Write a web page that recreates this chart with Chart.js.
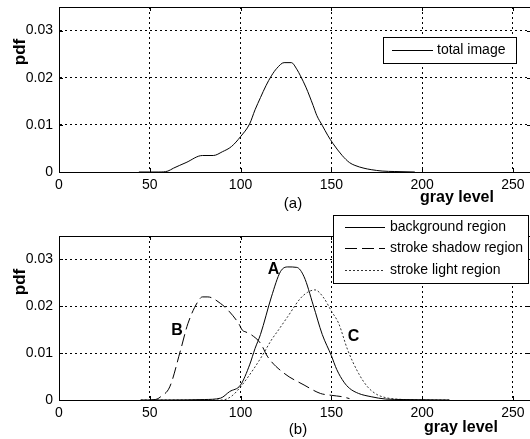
<!DOCTYPE html>
<html>
<head>
<meta charset="utf-8">
<script src="https://cdn.jsdelivr.net/npm/chart.js@4/dist/chart.umd.min.js"></script>
<style>
html,body{margin:0;padding:0;background:#fff;overflow:hidden;width:530px;height:439px;}
.box{position:absolute;left:0;width:531px;}
</style>
</head>
<body>
<div class="box" style="top:0;height:212px;"><canvas id="c1" width="531" height="212"></canvas></div>
<div class="box" style="top:212px;height:227px;"><canvas id="c2" width="531" height="227"></canvas></div>
<script>
// ---- data ----
const xTicks = [0, 50, 100, 150, 200, 250];
const yTicks = [0, 0.01, 0.02, 0.03];

const totalX = [44, 50, 55, 60, 63, 70, 79, 85, 90, 95, 100, 105, 108, 111, 114, 117, 120, 124, 128, 131, 133, 136, 140, 142, 145, 148, 151, 156, 160, 163, 168, 172, 178, 185, 196];
const totalY = [0, 0, 0, 0.0002, 0.0008, 0.002, 0.0035, 0.0035, 0.0043, 0.0054, 0.0075, 0.0102, 0.0132, 0.0158, 0.0183, 0.0204, 0.022, 0.0232, 0.0232, 0.0218, 0.0204, 0.018, 0.0141, 0.012, 0.0099, 0.0078, 0.006, 0.0035, 0.002, 0.0014, 0.0008, 0.0005, 0.0002, 0.0001, 0];

const bgX = [45, 60, 80, 89, 94, 100, 105, 108, 111, 117, 122, 126, 131, 135, 140, 145, 150, 153, 157, 160, 165, 172, 180, 190, 215];
const bgY = [0, 0, 0.0001, 0.0004, 0.0018, 0.0032, 0.0075, 0.011, 0.014, 0.022, 0.0274, 0.0284, 0.0283, 0.0263, 0.0203, 0.014, 0.0095, 0.0065, 0.0038, 0.0025, 0.0014, 0.0007, 0.0002, 0.0001, 0];

const shadowX = [50, 54, 56, 61, 67, 71, 77, 79, 82, 89, 94, 99, 101, 103, 106, 111, 115, 124, 135, 144, 150, 156, 160];
const shadowY = [0, 0.0002, 0.0007, 0.0028, 0.0107, 0.0163, 0.0213, 0.022, 0.022, 0.0206, 0.0188, 0.0163, 0.0149, 0.0145, 0.0139, 0.0121, 0.0092, 0.0057, 0.0032, 0.0014, 0.001, 0.0007, 0.0003];

const lightX = [45, 90, 95, 100, 107, 112, 117, 121, 126, 133, 137, 141, 146, 150, 154, 159, 165, 170, 175, 180, 186, 200, 215];
const lightY = [0, 0, 0.0008, 0.0028, 0.0065, 0.0095, 0.0128, 0.015, 0.0178, 0.0217, 0.023, 0.0235, 0.0217, 0.019, 0.0164, 0.0107, 0.0057, 0.0028, 0.0012, 0.0005, 0.0002, 0, 0];

const annotText = ['A', 'B', 'C'];
const annotX = [118.2, 65, 162.3];
const annotY = [0.0279, 0.0149, 0.0135];

const xTitle = 'gray level';
const yTitle = 'pdf';

function pts(xs, ys){ return xs.map((x,i)=>({x:x, y:ys[i]})); }

const FONT = '"Liberation Sans", Arial, sans-serif';

const framePlugin = {
  id: 'frame',
  afterDatasetsDraw(chart, args, o){
    const {ctx, chartArea:a, scales} = chart;
    ctx.save();
    ctx.strokeStyle = '#000'; ctx.lineWidth = 1; ctx.setLineDash([]);
    ctx.beginPath();
    xTicks.forEach(v=>{
      const px = Math.round(scales.x.getPixelForValue(v))+0.5;
      ctx.moveTo(px, a.bottom); ctx.lineTo(px, a.bottom-4);
      ctx.moveTo(px, a.top); ctx.lineTo(px, a.top+4);
    });
    yTicks.forEach(v=>{
      const py = Math.round(scales.y.getPixelForValue(v))+0.5;
      ctx.moveTo(a.left, py); ctx.lineTo(a.left+4, py);
      ctx.moveTo(a.right, py); ctx.lineTo(a.right-4, py);
    });
    ctx.stroke();
    ctx.strokeRect(Math.round(a.left)+0.5, Math.round(a.top)+0.5, Math.round(a.right-a.left), Math.round(a.bottom-a.top));
    ctx.fillStyle = '#000';
    ctx.textAlign = 'center'; ctx.textBaseline = 'middle';
    ctx.font = 'bold 16px ' + FONT;
    ctx.fillText(xTitle, o.xTitle[0], o.xTitle[1]);
    ctx.save();
    ctx.translate(o.yTitle[0], o.yTitle[1]); ctx.rotate(-Math.PI/2);
    ctx.font = 'bold 17px ' + FONT;
    ctx.fillText(yTitle, 0, 0);
    ctx.restore();
    ctx.font = '15px ' + FONT;
    ctx.fillText(o.caption, o.capPos[0], o.capPos[1]);
    if (o.annot) {
      ctx.font = 'bold 16px ' + FONT;
      annotText.forEach((t,i)=>{
        ctx.fillText(t, scales.x.getPixelForValue(annotX[i]), scales.y.getPixelForValue(annotY[i]));
      });
    }
    const L = o.legend;
    ctx.fillStyle = '#fff';
    ctx.fillRect(L.x, L.y, L.w, L.h);
    ctx.strokeStyle = '#000';
    ctx.strokeRect(L.x+0.5, L.y+0.5, L.w, L.h);
    ctx.textAlign = 'left';
    ctx.font = '14px ' + FONT;
    chart.data.datasets.forEach((ds,i)=>{
      const y = Math.round(L.y + L.row0 + i*L.rowH)+0.5;
      ctx.strokeStyle = ds.borderColor; ctx.lineWidth = 1;
      ctx.setLineDash(ds.borderDash || []);
      ctx.beginPath(); ctx.moveTo(L.x+L.lx0, y); ctx.lineTo(L.x+L.lx1, y); ctx.stroke();
      ctx.setLineDash([]);
      ctx.fillStyle = '#000';
      ctx.fillText(ds.label, L.x+L.tx, y);
    });
    ctx.restore();
  }
};

function makeScales(xH){
  return {
    x: {
      type:'linear', min:0, max:260,
      afterBuildTicks: s => { s.ticks = xTicks.map(v=>({value:v})); },
      afterFit: s => { s.height = xH; s.paddingLeft = 0; s.paddingRight = 0; },
      grid:{ color:'#000', lineWidth:1, tickLength:0, drawTicks:false },
      border:{ display:true, color:'#000', dash:[2,3] },
      ticks:{ color:'#000', padding:5, maxRotation:0, font:{family:FONT, size:14}, callback:v=>String(v) }
    },
    y: {
      type:'linear', min:0, max:0.035,
      afterBuildTicks: s => { s.ticks = yTicks.map(v=>({value:v})); },
      afterFit: s => { s.width = 59; s.paddingTop = 0; s.paddingBottom = 0; },
      grid:{ color:'#000', lineWidth:1, tickLength:0, drawTicks:false },
      border:{ display:true, color:'#000', dash:[2,3] },
      ticks:{ color:'#000', padding:6, font:{family:FONT, size:14}, callback:v=> v===0 ? '0' : v.toFixed(2) }
    }
  };
}

const lineBase = { borderColor:'#000', borderWidth:1, pointRadius:0, fill:false, cubicInterpolationMode:'monotone' };

new Chart(document.getElementById('c1'), {
  type:'line',
  data:{ datasets:[
    Object.assign({ label:'total image', data:pts(totalX,totalY) }, lineBase)
  ]},
  options:{
    responsive:false, animation:false,
    layout:{ padding:{ left:0, right:0, top:7, bottom:0 } },
    scales: makeScales(40),
    plugins:{
      legend:{display:false}, tooltip:{enabled:false},
      frame:{ xTitle:[457,198], yTitle:[20,52], caption:'(a)', capPos:[293,204], annot:false,
        legend:{ x:383, y:37, w:133, h:26, row0:13, rowH:0, lx0:9, lx1:50, tx:54 } }
    }
  },
  plugins:[framePlugin]
});

new Chart(document.getElementById('c2'), {
  type:'line',
  data:{ datasets:[
    Object.assign({ label:'background region', data:pts(bgX,bgY) }, lineBase),
    Object.assign({ label:'stroke shadow region', data:pts(shadowX,shadowY), borderDash:[12,5] }, lineBase),
    Object.assign({ label:'stroke light region', data:pts(lightX,lightY) }, lineBase, { borderColor:'#333', borderDash:[2,2] })
  ]},
  options:{
    responsive:false, animation:false,
    layout:{ padding:{ left:0, right:0, top:24, bottom:0 } },
    scales: makeScales(39),
    plugins:{
      legend:{display:false}, tooltip:{enabled:false},
      frame:{ xTitle:[461,216], yTitle:[20,70], caption:'(b)', capPos:[298,218], annot:true,
        legend:{ x:333, y:3, w:195, h:68, row0:11.7, rowH:21.7, lx0:12, lx1:52, tx:57 } }
    }
  },
  plugins:[framePlugin]
});
</script>
</body>
</html>
